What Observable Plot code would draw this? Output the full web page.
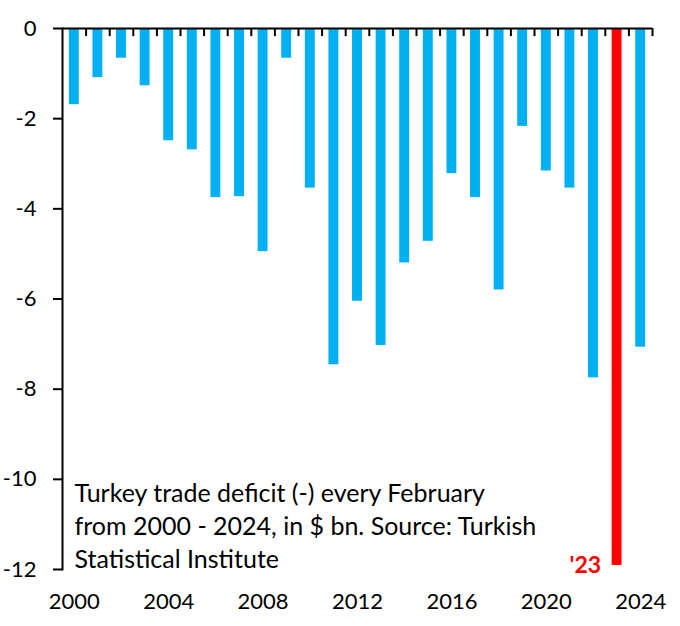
<!DOCTYPE html>
<html>
<head>
<meta charset="utf-8">
<script src="https://cdn.jsdelivr.net/npm/d3@7"></script>
<script src="https://cdn.jsdelivr.net/npm/@observablehq/plot@0.6"></script>
<style>
  html, body { margin: 0; padding: 0; background: #fff; }
</style>
</head>
<body>
<div id="chart"></div>
<script>
const years = [2000,2001,2002,2003,2004,2005,2006,2007,2008,2009,2010,2011,2012,2013,2014,2015,2016,2017,2018,2019,2020,2021,2022,2023,2024];
const values = [-1.69,-1.09,-0.66,-1.27,-2.49,-2.69,-3.75,-3.73,-4.95,-0.66,-3.54,-7.46,-6.05,-7.03,-5.20,-4.72,-3.22,-3.75,-5.80,-2.17,-3.16,-3.54,-7.75,-11.91,-7.07];
const yTicks = [0,-2,-4,-6,-8,-10,-12];
const xTicks = [2000,2004,2008,2012,2016,2020,2024];
const highlightYear = 2023;
const highlightLabel = "'23";
const note = "Turkey trade deficit (-) every February\nfrom 2000 - 2024, in $ bn. Source: Turkish\nStatistical Institute";

const data = years.map((y, i) => ({year: y, value: values[i]}));
const blue = "#00B0F0", red = "#FF0000";

const W = 680, H = 626, mL = 62, mR = 28, mT = 28, mB = 57;
const step = (W - mL - mR) / years.length;

const chart = Plot.plot({
  width: W, height: H,
  marginLeft: mL, marginRight: mR, marginTop: mT, marginBottom: mB,
  style: {fontFamily: "Lato, 'Open Sans', sans-serif", fontSize: "22px", color: "#000", background: "#fff"},
  x: {type: "band", domain: years, paddingInner: 0.58, paddingOuter: 0.29, round: false},
  y: {domain: [-12, 0]},
  color: {type: "identity"},
  marks: [
    Plot.barY(data, {x: "year", y: "value", fill: d => d.year === highlightYear ? red : blue}),
    Plot.axisY({ticks: yTicks, tickSize: 9, tickPadding: 17, tickFormat: d => String(d), strokeWidth: 2, label: null}),
    Plot.axisX({ticks: xTicks, tickSize: 0, tickPadding: 24, tickFormat: d => String(d), label: null}),
    Plot.frame({anchor: "left", strokeWidth: 2}),
    Plot.ruleY([0], {strokeWidth: 2}),
    Plot.ruleX(years, {x: d => d, dx: step / 2, y1: 0, y2: -0.18, strokeWidth: 2}),
    Plot.text(data.filter(d => d.year === highlightYear), {x: "year", y: "value", text: () => highlightLabel, textAnchor: "end", dx: -16, fill: red, fontWeight: "bold", fontSize: 23}),
    Plot.text([note], {frameAnchor: "bottom-left", text: d => d, textAnchor: "start", lineAnchor: "bottom", dx: 12, dy: -2, lineHeight: 1.32, fontSize: 25})
  ]
});
document.getElementById("chart").appendChild(chart);
</script>
</body>
</html>
